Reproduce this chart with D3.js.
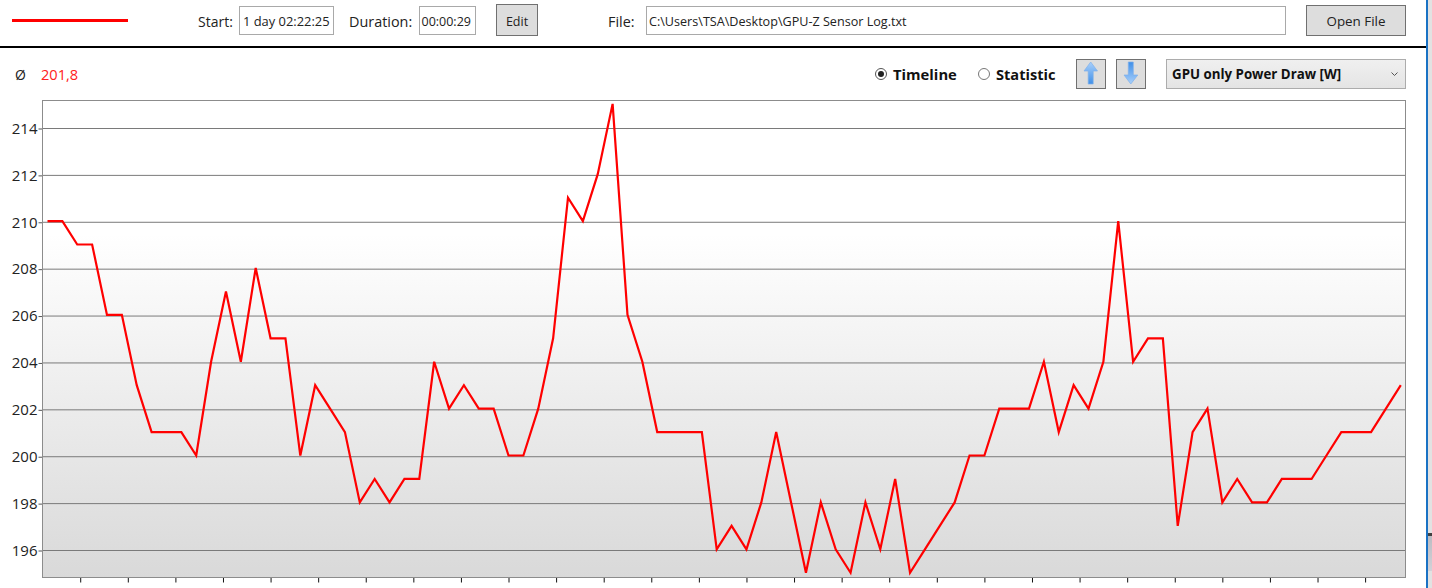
<!DOCTYPE html>
<html>
<head>
<meta charset="utf-8">
<script src="https://cdn.jsdelivr.net/npm/d3@7"></script>
<style>
    html, body { margin: 0; padding: 0; background: #fff; overflow: hidden; }
    svg { display: block; }
    text { font-family: "Open Sans", sans-serif; font-size: 13.5px; fill: #222; }
</style>
</head>
<body>
<div id="chart"></div>
<script>
// GPU only Power Draw [W], one reading per sample
var powerValues = [210, 210, 209, 209, 206, 206, 203, 201, 201, 201, 200, 204, 207, 204, 208, 205, 205, 200, 203, 202,
                   201, 198, 199, 198, 199, 199, 204, 202, 203, 202, 202, 200, 200, 202, 205, 211, 210, 212, 215, 206,
                   204, 201, 201, 201, 201, 196, 197, 196, 198, 201, 198, 195, 198, 196, 195, 198, 196, 199, 195, 196,
                   197, 198, 200, 200, 202, 202, 202, 204, 201, 203, 202, 204, 210, 204, 205, 205, 197, 201, 202, 198,
                   199, 198, 198, 199, 199, 199, 200, 201, 201, 201, 202, 203];
var yTickValues = [196, 198, 200, 202, 204, 206, 208, 210, 212, 214];
var averageLabel = "201,8";
var startLabel = "1 day 02:22:25";
var durationLabel = "00:00:29";
var fileLabel = "C:\\Users\\TSA\\Desktop\\GPU-Z Sensor Log.txt";
var sensorLabel = "GPU only Power Draw [W]";

var w = 1432, h = 588;
var plot = { left: 42.5, right: 1405.5, top: 100.5, bottom: 577.5 };

var svg = d3.select("#chart").append("svg")
    .attr("width", w)
    .attr("height", h);

var defs = svg.append("defs");

function addGradient(id, stops) {
    var g = defs.append("linearGradient").attr("id", id)
        .attr("x1", 0).attr("y1", 0).attr("x2", 0).attr("y2", 1);
    stops.forEach(function(s) {
        g.append("stop").attr("offset", s[0]).attr("stop-color", s[1]);
    });
}
addGradient("plotBg", [[0, "#ffffff"], [0.28, "#ffffff"], [1, "#d9d9d9"]]);
addGradient("comboBg", [[0, "#f0f0f0"], [1, "#e4e4e4"]]);
addGradient("upFill", [[0, "#a9d0fb"], [1, "#3f8fe8"]]);
addGradient("downFill", [[0, "#3f8fe8"], [1, "#a9d0fb"]]);
addGradient("thumbBg", [[0, "#bcbcc2"], [1, "#d2d2d8"]]);

// scales
var xScale = d3.scaleLinear()
    .domain([0, powerValues.length - 1])
    .range([47.5, 1400.8]);

var yScale = d3.scaleLinear()
    .domain([196, 214])
    .range([550.5, 128.5]);

// plot background
svg.append("rect")
    .attr("x", plot.left).attr("y", plot.top)
    .attr("width", plot.right - plot.left)
    .attr("height", plot.bottom - plot.top)
    .attr("fill", "url(#plotBg)");

// horizontal grid lines
svg.append("g").selectAll("line")
    .data(yTickValues)
    .enter()
    .append("line")
    .attr("x1", plot.left).attr("x2", plot.right)
    .attr("y1", function(d) { return yScale(d); })
    .attr("y2", function(d) { return yScale(d); })
    .attr("stroke", "#7a7a7a")
    .attr("stroke-width", 1);

// y axis
var yAxis = d3.axisLeft(yScale)
    .tickValues(yTickValues)
    .tickSize(4)
    .tickPadding(1);

var yG = svg.append("g")
    .attr("transform", "translate(" + plot.left + ",0)")
    .call(yAxis);
yG.select(".domain").remove();
yG.selectAll("line").attr("stroke", "#555");
yG.selectAll("text").style("font-size", "15px").style("font-family", "'Open Sans', sans-serif").attr("fill", "#222");

// x axis has ticks only, the labels are cut off in the window
var xAxis = d3.axisBottom(xScale)
    .tickValues(d3.range(2.2, 90, 3.2))
    .tickSize(5)
    .tickFormat("");

var xG = svg.append("g")
    .attr("transform", "translate(0," + plot.bottom + ")")
    .call(xAxis);
xG.select(".domain").remove();
xG.selectAll("line").attr("stroke", "#111");

// plot border
svg.append("rect")
    .attr("x", plot.left).attr("y", plot.top)
    .attr("width", plot.right - plot.left)
    .attr("height", plot.bottom - plot.top)
    .attr("fill", "none")
    .attr("stroke", "#8c8c8c")
    .attr("stroke-width", 1);

// series line
var line = d3.line()
    .x(function(d, i) { return xScale(i); })
    .y(function(d) { return yScale(d) - 1.2; });

svg.append("path")
    .datum(powerValues)
    .attr("d", line)
    .attr("fill", "none")
    .attr("stroke", "#ff0000")
    .attr("stroke-width", 2.2)
    .attr("stroke-linejoin", "miter");

// header
svg.append("line")
    .attr("x1", 12).attr("x2", 128).attr("y1", 20.5).attr("y2", 20.5)
    .attr("stroke", "#ff0000").attr("stroke-width", 3);

function label(x, y, txt, opts) {
    opts = opts || {};
    return svg.append("text")
        .attr("x", x).attr("y", y)
        .attr("text-anchor", opts.anchor || "start")
        .style("font-size", (opts.size || 13.5) + "px")
        .style("font-weight", opts.weight || 400)
        .style("fill", opts.fill || "#222")
        .text(txt);
}

function box(x, y, bw, bh, fill, stroke) {
    return svg.append("rect")
        .attr("x", x).attr("y", y).attr("width", bw).attr("height", bh)
        .attr("fill", fill).attr("stroke", stroke).attr("stroke-width", 1);
}

label(198, 27, "Start:", { size: 14 });
box(239.5, 6.5, 94, 28, "#fff", "#a9a9a9");
label(243, 26, startLabel, { size: 12.9 });

label(349, 27, "Duration:", { size: 14.4 });
box(419.5, 6.5, 56, 28, "#fff", "#a9a9a9");
label(421.5, 26, durationLabel, { size: 12.5 });

box(496.5, 4.5, 41, 31, "#dddddd", "#707070");
label(517, 26, "Edit", { anchor: "middle", size: 12.5 });

label(608, 27, "File:", { size: 14.4 });
box(646.5, 6.5, 639, 28, "#fff", "#a9a9a9");
label(649, 26, fileLabel, { size: 12.6 });

box(1306.5, 5.5, 99, 30, "#dddddd", "#707070");
label(1356, 26, "Open File", { anchor: "middle", size: 13.4 });

svg.append("rect")
    .attr("x", 0).attr("y", 46).attr("width", 1426).attr("height", 2)
    .attr("fill", "#000");

// average row
label(15, 80, "Ø", { size: 14 });
label(41, 80, averageLabel, { size: 14.6, fill: "#ff2020" });

// radio buttons
svg.append("circle").attr("cx", 881).attr("cy", 74).attr("r", 5.5)
    .attr("fill", "#fff").attr("stroke", "#555");
svg.append("circle").attr("cx", 881).attr("cy", 74).attr("r", 3).attr("fill", "#222");
label(893, 80, "Timeline", { size: 14.8, weight: 700, fill: "#111" });

svg.append("circle").attr("cx", 984).attr("cy", 74).attr("r", 5.5)
    .attr("fill", "#fff").attr("stroke", "#777");
label(996, 80, "Statistic", { size: 14.6, weight: 700, fill: "#111" });

// arrow buttons
box(1076.5, 59.5, 29, 29, "#dddddd", "#707070");
box(1116.5, 59.5, 29, 29, "#dddddd", "#707070");

var upArrow = d3.path();
upArrow.moveTo(1090.7, 62);
upArrow.lineTo(1097.5, 71);
upArrow.lineTo(1093.2, 71);
upArrow.lineTo(1093.2, 84);
upArrow.lineTo(1088.2, 84);
upArrow.lineTo(1088.2, 71);
upArrow.lineTo(1084, 71);
upArrow.closePath();
svg.append("path").attr("d", upArrow.toString())
    .attr("fill", "url(#upFill)").attr("stroke", "#7fb0ea").attr("stroke-width", 0.7);

var downArrow = d3.path();
downArrow.moveTo(1130.8, 84);
downArrow.lineTo(1137.8, 75);
downArrow.lineTo(1133.3, 75);
downArrow.lineTo(1133.3, 62);
downArrow.lineTo(1128.3, 62);
downArrow.lineTo(1128.3, 75);
downArrow.lineTo(1124, 75);
downArrow.closePath();
svg.append("path").attr("d", downArrow.toString())
    .attr("fill", "url(#downFill)").attr("stroke", "#7fb0ea").attr("stroke-width", 0.7);

// sensor combo box
box(1166.5, 59.5, 239, 29, "url(#comboBg)", "#acacac");
label(1172, 79, sensorLabel, { size: 13.3, weight: 700, fill: "#111" });
svg.append("path")
    .attr("d", "M1391.5,72.5L1394.5,75.5L1397.5,72.5")
    .attr("fill", "none").attr("stroke", "#555").attr("stroke-width", 1);

// window edge on the right
svg.append("rect").attr("x", 1428).attr("y", 0).attr("width", 4).attr("height", h).attr("fill", "#e2e2e2");
svg.append("rect").attr("x", 1426).attr("y", 0).attr("width", 2).attr("height", h).attr("fill", "#1a72c4");
svg.append("rect").attr("x", 1428).attr("y", 533).attr("width", 4).attr("height", 3).attr("fill", "#404040");
svg.append("rect").attr("x", 1428).attr("y", 536).attr("width", 4).attr("height", 35).attr("fill", "url(#thumbBg)");
</script>
</body>
</html>
